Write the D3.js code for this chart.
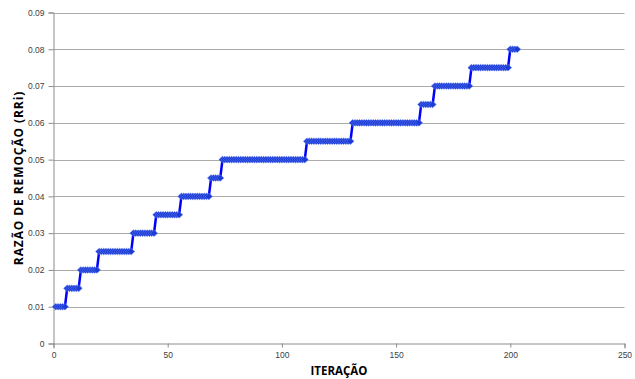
<!DOCTYPE html>
<html><head><meta charset="utf-8">
<script src="https://cdn.jsdelivr.net/npm/d3@7"></script>
<style>body{margin:0;background:#fff}svg{display:block}</style>
</head><body>
<svg id="c" width="635" height="379"></svg>
<script>
// Step data: each run = value held for a number of iterations (starting at iteration 1)
const runValues  = [0.01, 0.015, 0.02, 0.025, 0.03, 0.035, 0.04, 0.045, 0.05, 0.055, 0.06, 0.065, 0.07, 0.075, 0.08];
const runLengths = [5,    6,     8,    15,    10,   11,    13,   5,     37,   20,    30,   6,     16,   17,    4];
const xTicks = [0, 50, 100, 150, 200, 250];
const yTicks = [0, 0.01, 0.02, 0.03, 0.04, 0.05, 0.06, 0.07, 0.08, 0.09];
const xTitle = "ITERAÇÃO";
const yTitle = "RAZÃO DE REMOÇÃO (RRi)";

// expand runs to one point per iteration
const data = [];
let it = 1;
runValues.forEach((v, i) => { for (let k = 0; k < runLengths[i]; k++) data.push({x: it++, y: v}); });

const svg = d3.select("#c");
const m = {l: 53.5, r: 624.5, t: 12.5, b: 343.5};
const x = d3.scaleLinear().domain([0, 250]).range([m.l, m.r]);
const y = d3.scaleLinear().domain([0, 0.09]).range([m.b, m.t]);

// gridlines
svg.append("g").selectAll("line").data(yTicks.filter(d => d > 0)).join("line")
  .attr("x1", m.l).attr("x2", m.r)
  .attr("y1", d => Math.round(y(d)) + 0.5).attr("y2", d => Math.round(y(d)) + 0.5)
  .attr("stroke", "#ababab").attr("stroke-width", 1);

// axes
const yAxis = d3.axisLeft(y).tickValues(yTicks).tickSize(5).tickPadding(4)
  .tickFormat(d => d === 0 ? "0" : d3.format(".2f")(d));
const gy = svg.append("g").attr("transform", `translate(${m.l},0)`).call(yAxis);
const xAxis = d3.axisBottom(x).tickValues(xTicks).tickSize(5).tickPadding(3).tickFormat(d3.format("d"));
const gx = svg.append("g").attr("transform", `translate(0,${m.b})`).call(xAxis);
[gx, gy].forEach(g => {
  g.select(".domain").attr("stroke", "#8c8c8c");
  g.selectAll(".tick line").attr("stroke", "#8c8c8c");
  g.selectAll(".tick text").attr("fill", "#404040")
    .style("font-family", "'Liberation Sans', Arial, sans-serif").style("font-size", "8.5px");
});
gx.selectAll(".tick line").attr("y2", 4);

// line
svg.append("path").datum(data)
  .attr("d", d3.line().x(d => x(d.x)).y(d => y(d.y)))
  .attr("fill", "none").attr("stroke", "#0000ff").attr("stroke-width", 2.5);

// diamond markers
svg.append("g").selectAll("path").data(data).join("path")
  .attr("transform", d => `translate(${x(d.x)},${y(d.y)})`)
  .attr("d", "M0,-3.3L3.6,0L0,3.3L-3.6,0Z")
  .attr("fill", "#1c3bd4").attr("stroke", "#5a78f2").attr("stroke-width", 0.6);

// axis titles
svg.append("text").attr("x", 339).attr("y", 375).attr("text-anchor", "middle")
  .style("font-family", "'Open Sans', sans-serif").style("font-weight", "bold").style("font-size", "11.5px")
  .attr("fill", "#000").text(xTitle);
svg.append("text").attr("transform", "translate(23,178) rotate(-90)").attr("text-anchor", "middle")
  .style("font-family", "'Open Sans', sans-serif").style("font-weight", "bold").style("font-size", "12px")
  .style("letter-spacing", "0.9px")
  .attr("fill", "#000").text(yTitle);
</script>
</body></html>
